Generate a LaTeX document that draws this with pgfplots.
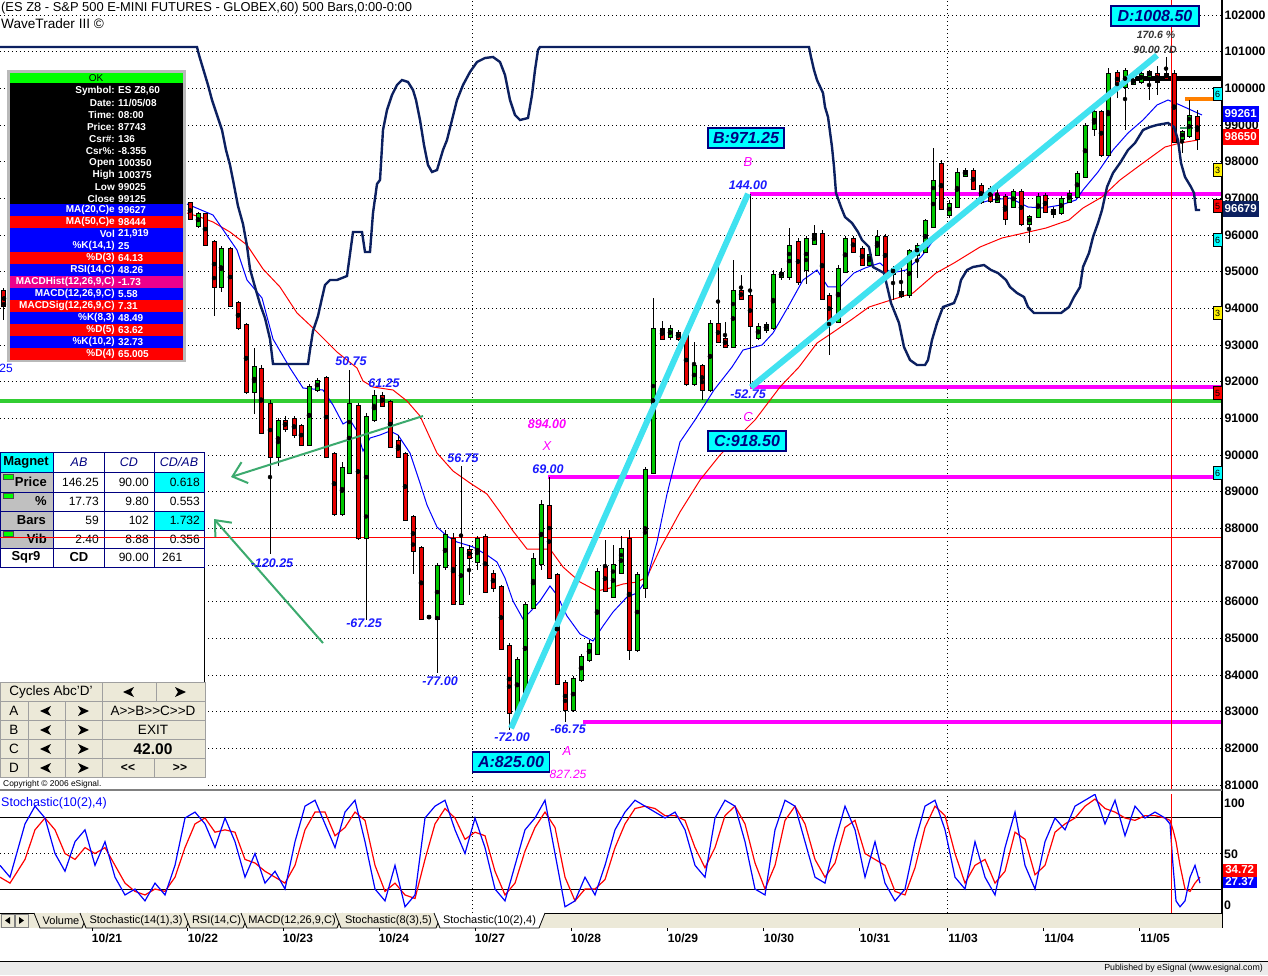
\documentclass[border=0pt]{standalone}
\usepackage{fontspec}
\setmainfont{Liberation Sans}
\usepackage{pgfplots}
\usepackage{pgfplotstable}
\pgfplotsset{compat=1.18}
\usetikzlibrary{arrows.meta}

\definecolor{navyc}{RGB}{12,32,96}
\definecolor{cyanl}{RGB}{64,226,240}
\definecolor{greenl}{RGB}{50,205,50}
\definecolor{candleg}{RGB}{0,200,0}
\definecolor{candler}{RGB}{230,0,0}
\definecolor{arrowg}{RGB}{60,170,110}
\definecolor{beige}{RGB}{236,233,216}
\definecolor{annblue}{RGB}{25,25,255}
\definecolor{annmag}{RGB}{255,0,255}
\definecolor{tgray}{RGB}{192,192,192}
\definecolor{okgreen}{RGB}{0,255,0}
\definecolor{boxcyan}{RGB}{0,255,255}
\definecolor{darkblue}{RGB}{0,0,128}
\definecolor{orangel}{RGB}{255,128,0}
\definecolor{dgreen}{RGB}{60,150,100}

% 2-hour candles, x = bar position, prices as on the right scale
\pgfplotstableread{
x o h l c
4 94446 94555 93683 94092
190 96846 96901 96437 96491
198 96301 96628 96191 96546
205 96546 96600 95728 95783
214 95783 95864 93792 94637
221 94637 95701 94446 95591
230 95591 95673 94037 94119
238 94119 94201 93410 93519
246 93519 93601 91665 91774
254 91774 92919 91119 92374
261 92319 92456 90574 90656
270 91365 91501 87301 90001
278 90001 91010 89701 90901
285 90901 91065 90628 90765
294 90956 91065 90465 90601
301 90765 90847 90247 90328
309 90328 91937 90247 91828
317 91828 92101 91719 91992
326 92074 92155 89919 90001
334 90001 90083 88338 88447
342 88447 89810 88338 89619
349 89565 92319 89483 91365
358 91310 91419 87683 87792
366 87792 91146 85502 91010
374 91010 91774 90901 91556
382 91583 91719 91310 91392
390 91419 91501 90192 90274
398 90356 90547 89919 90001
405 90001 90083 88201 88283
413 88283 88365 86756 87438
421 87438 87520 85529 85584
429 85584 85611 85557 85584
437 85584 87056 84056 86947
445 87002 87956 86865 87792
453 87683 87874 85911 85993
461 85993 89701 85911 87438
469 87383 87547 86183 87247
477 87138 87792 86865 87683
485 87738 87847 86238 86320
493 86729 86865 86265 86429
501 86374 86456 84683 84765
509 84765 84874 82500 83020
517 83075 84493 82993 84384
525 83565 85993 83483 85884
533 85884 87329 85802 87138
541 87083 88774 86865 88610
549 88583 89400 86620 86702
557 86702 86784 83729 83811
565 83756 83865 82725 83102
573 83102 83974 82993 83865
581 83920 84574 83811 84465
589 84465 84956 84356 84820
597 84629 86920 84547 86784
605 86920 87683 86265 86347
613 86183 87547 86102 86975
621 86838 87792 86756 87410
629 87683 87956 84411 84738
637 84738 86811 84629 86702
645 86429 89674 86102 89565
653 89565 94283 89483 93410
662 93410 93656 93137 93219
670 93274 93547 93137 93410
678 93301 93410 93110 93219
686 93219 93301 91883 91965
694 91965 93083 91883 92401
702 92401 92483 91501 91828
710 91828 93683 91719 93547
718 93547 95319 93055 93137
725 93137 93628 92919 93001
733 93001 95319 92919 94446
741 94446 94910 94228 94310
750 94310 97125 91850 93574
758 93246 93601 93137 93456
766 93456 93628 93328 93510
773 93510 95046 93410 94883
781 94910 95100 94774 94937
789 94910 96191 94774 95673
798 95783 95919 94637 94774
806 95100 95973 94665 95864
814 95810 96273 95728 96001
822 96001 96137 94228 94310
829 94310 94419 92728 93683
838 93683 95182 93601 95046
845 95046 95973 94964 95864
853 95864 95973 95510 95591
862 95591 95701 95155 95237
869 95237 95591 95155 95401
877 95510 96137 95428 95919
885 95919 96028 94883 94964
893 94992 95155 94228 95046
901 94419 95155 94283 94392
909 94392 95619 94283 95510
917 95510 95783 94828 95673
925 95591 96437 95510 96328
933 96273 98373 96191 97419
941 97909 98046 96682 96764
949 96600 96955 96464 96819
957 96819 97828 96737 97664
965 97664 97828 97582 97719
973 97719 97828 97228 97310
981 97310 97419 96846 96955
990 97228 97337 96873 96982
997 96955 97337 96873 97037
1005 97010 97119 96273 96491
1013 96819 97255 96737 97146
1021 97146 97255 96246 96355
1029 96355 96546 95783 96464
1038 96546 97146 96464 97010
1045 97037 97146 96600 96682
1053 96628 96764 96464 96655
1061 96655 97064 96546 96955
1069 96955 97228 96873 97092
1077 97092 97746 97010 97637
1085 97637 99055 97555 98946
1094 98946 99437 98700 99328
1101 99328 99410 98128 98237
1108 98237 100555 98155 100364
1117 100364 100500 99737 100146
1125 100091 100555 98864 100446
1133 100173 100336 100091 100200
1141 100227 100500 100118 100364
1149 100364 100500 99682 100418
1157 100364 100609 99818 100227
1166 100364 100850 100227 100309
1174 100364 100500 98509 98591
1182 98673 98864 98237 98782
1189 98728 99682 98646 99191
1197 99191 99410 98318 98673
}\candles

\newcommand{\ifont}{\fontsize{10}{12}\selectfont\bfseries}
\newcommand{\ann}{\fontsize{12.5}{14}\selectfont\bfseries\itshape}
\newcommand{\tfont}{\fontsize{12}{14}\selectfont}
\newcommand{\tbold}{\fontsize{13}{15}\selectfont\bfseries}
\newcommand{\irow}[4]{\fill[#2] (10,{-#1+6}) rectangle (183,{-#1-6});
  \node[anchor=east,text=white,font=\ifont] at (115,-#1) {#3};
  \node[anchor=west,text=white,font=\ifont] at (118,-#1) {#4};}
\newcommand{\brow}[3]{\node[anchor=east,text=white,font=\ifont] at (115,-#1) {#2};
  \node[anchor=west,text=white,font=\ifont] at (118,-#1) {#3};}
\newcommand{\btn}[4]{\filldraw[fill=beige, draw=gray!75, line width=0.8pt] (#1,-#2) rectangle (#3,-#4);}
\newcommand{\larr}[2]{\fill[black] ({#1-6},-#2) -- ({#1+5},{-#2+5}) -- ({#1+2},-#2) -- ({#1+5},{-#2-5}) -- cycle;}
\newcommand{\rarr}[2]{\fill[black] ({#1+6},-#2) -- ({#1-5},{-#2+5}) -- ({#1-2},-#2) -- ({#1-5},{-#2-5}) -- cycle;}
\newcommand{\tabshape}[4]{\filldraw[fill=#3, draw=black, line width=0.8pt] (#1,-913) -- ({#1+6},-928) -- ({#2-6},-928) -- (#2,-913);
  \node[font=\fontsize{11}{13}\selectfont] at ({(#1+#2)/2},-920.5) {#4};}

\begin{document}
\begin{tikzpicture}[x=1pt,y=1pt]
\useasboundingbox (0,0) rectangle (1268,-975);
\fill[white] (0,0) rectangle (1268,-975);

% ---------------- price panel ----------------
\begin{axis}[
  at={(0pt,0pt)}, anchor=north west, scale only axis,
  width=1222pt, height=790pt,
  xmin=0, xmax=1222, ymin=80866, ymax=102409,
  axis line style={draw=none},
  xtick={472,947}, xticklabels={}, xmajorgrids,
  ytick={81000,82000,...,102000}, ymajorgrids,
  grid style={black, line width=0.8pt, dash pattern=on 0.8pt off 3.2pt},
  major tick length=0pt,
  yticklabel pos=right,
  scaled y ticks=false,
  y tick label style={font=\fontsize{12.3}{14}\selectfont\bfseries, anchor=west, xshift=-1pt},
  yticklabel style={/pgf/number format/fixed, /pgf/number format/1000 sep={}, /pgf/number format/assume math mode=true},
]
% level lines
\addplot[red, line width=1.2pt] coordinates {(0,87743) (1222,87743)};
\addplot[greenl, line width=4pt] coordinates {(0,91475) (1222,91475)};
\addplot[annmag, line width=3.5pt] coordinates {(750,97125) (1222,97125)};
\addplot[annmag, line width=3.5pt] coordinates {(750,91850) (1222,91850)};
\addplot[annmag, line width=3.5pt] coordinates {(548,89400) (1222,89400)};
\addplot[annmag, line width=3.5pt] coordinates {(583,82725) (1222,82725)};
\addplot[black, line width=5pt] coordinates {(1135,100255) (1222,100255)};
\addplot[orangel, line width=4pt] coordinates {(1185,99723) (1215,99723)};
\addplot[dgreen, line width=2pt] coordinates {(1180,98918) (1193,98918)};

% moving averages
\addplot[red, line width=1pt] coordinates {
(187,96600) (200,96491) (213,96355) (230,96082) (247,95728) (263,95073) (280,94583)
(297,93874) (313,93465) (327,93083) (337,92810) (357,92374) (363,92019) (373,91856)
(393,91774) (407,91474) (420,91065) (437,90055) (453,89565) (470,89237) (487,88937)
(500,88447) (513,87929) (527,87438) (550,87438) (563,86947) (580,86538) (597,86292)
(610,86374) (623,86483) (637,86538) (647,86675) (660,87438) (680,88447) (700,89319)
(720,90001) (740,90547) (755,90956) (780,91856) (799,92401) (817,93055) (832,93328)
(851,93683) (869,94037) (891,94228) (913,94419) (936,94964) (954,95237) (980,95673)
(1002,95919) (1024,96055) (1046,96191) (1069,96410) (1083,96737) (1102,97037)
(1120,97501) (1143,97964) (1165,98400) (1180,98509) (1198,98591)};
\addplot[blue, line width=1pt] coordinates {
(187,96846) (213,96546) (237,95591) (247,94774) (262,94283) (273,93164) (290,92374)
(303,91828) (323,91774) (333,91365) (343,90847) (350,90956) (357,90656) (363,90110)
(370,90465) (380,90547) (390,90656) (398,90547) (410,90055) (420,89237) (427,88637)
(437,88037) (447,87792) (457,87629) (467,87547) (473,87492) (487,87274) (497,87083)
(505,86647) (513,86020) (523,85529) (530,85720) (540,86020) (550,86429) (557,86183)
(567,85611) (580,85120) (593,84929) (603,85338) (613,85720) (627,86129) (637,86238)
(647,86620) (657,87629) (667,88937) (680,90356) (695,90956) (714,91774) (732,92401)
(743,92864) (762,93001) (773,93328) (788,94037) (803,94774) (817,95046) (828,94583)
(840,94583) (854,94964) (865,95100) (880,95237) (891,94964) (906,95046) (921,95401)
(936,95946) (954,96410) (973,96819) (991,96955) (1010,97010) (1028,96764) (1043,96737)
(1061,96819) (1076,96955) (1083,97228) (1098,97719) (1113,98319) (1128,98782)
(1143,99137) (1157,99546) (1168,99682) (1180,99546) (1191,99410) (1202,99273)};

% candles: wicks
\addplot[only marks, mark=none, forget plot,
  error bars/.cd, y dir=both, y explicit, error mark=none,
  error bar style={draw=black, line width=1pt}]
  table[x=x, y expr={(\thisrow{h}+\thisrow{l})/2}, y error expr={(\thisrow{h}-\thisrow{l})/2}] {\candles};
% up bodies
\addplot[only marks, mark=none, forget plot,
  restrict expr to domain={\thisrow{c}-\thisrow{o}}{0:50000},
  error bars/.cd, y dir=both, y explicit, error mark=none,
  error bar style={draw=black, line width=5pt, line cap=rect}]
  table[x=x, y expr={(\thisrow{o}+\thisrow{c})/2}, y error expr={abs(\thisrow{c}-\thisrow{o})/2}] {\candles};
\addplot[only marks, mark=none, forget plot,
  restrict expr to domain={\thisrow{c}-\thisrow{o}}{0:50000},
  error bars/.cd, y dir=both, y explicit, error mark=none,
  error bar style={draw=candleg, line width=3pt, line cap=rect}]
  table[x=x, y expr={(\thisrow{o}+\thisrow{c})/2}, y error expr={abs(\thisrow{c}-\thisrow{o})/2}] {\candles};
% down bodies
\addplot[only marks, mark=none, forget plot,
  restrict expr to domain={\thisrow{c}-\thisrow{o}}{-50000:-0.5},
  error bars/.cd, y dir=both, y explicit, error mark=none,
  error bar style={draw=black, line width=5pt, line cap=rect}]
  table[x=x, y expr={(\thisrow{o}+\thisrow{c})/2}, y error expr={abs(\thisrow{c}-\thisrow{o})/2}] {\candles};
\addplot[only marks, mark=none, forget plot,
  restrict expr to domain={\thisrow{c}-\thisrow{o}}{-50000:-0.5},
  error bars/.cd, y dir=both, y explicit, error mark=none,
  error bar style={draw=candler, line width=3pt, line cap=rect}]
  table[x=x, y expr={(\thisrow{o}+\thisrow{c})/2}, y error expr={abs(\thisrow{c}-\thisrow{o})/2}] {\candles};

% cycle line
\addplot[navyc, line width=2.4pt] coordinates {
(0,101127) (197,101127) (199,100909) (202,100636) (205,100364) (208,100091) (212,99682)
(217,99273) (222,98864) (226,98319) (230,97909) (233,97501) (238,96791) (243,96301)
(247,95701) (250,95073) (255,94583) (260,94119) (265,93737) (270,93164) (273,92483)
(308,92483) (310,92864) (313,93383) (318,93792) (322,94283) (325,94637) (330,94774)
(337,94774) (347,94883) (350,95482) (353,96082) (362,96082) (365,95537) (370,95537)
(373,96600) (377,97392) (380,97501) (383,98864) (387,99410) (392,99819) (397,100091)
(402,100227) (408,100173) (413,99955) (416,99682) (420,99137) (424,98455) (428,97909)
(432,97719) (437,97773) (440,98046) (443,98319) (447,98591) (452,99137) (457,99682)
(463,100091) (470,100446) (477,100718) (485,100827) (493,100855) (500,100718)
(505,100364) (510,99682) (515,99273) (520,99137) (528,99191) (532,99819) (535,100500)
(538,101046) (540,101127) (809,101127) (811,100855) (814,100500) (817,100227)
(823,99873) (825,99491) (828,99219) (832,98400) (834,97855) (836,97146) (841,96764)
(845,96491) (852,96328) (858,96082) (862,95864) (869,95673) (873,95128) (884,94964)
(891,94146) (899,93601) (904,92946) (910,92592) (917,92456) (925,92456) (928,92592)
(932,93137) (937,93601) (943,94037) (954,94146) (958,94419) (961,94774) (967,95046)
(973,95128) (984,95182) (991,95046) (998,94964) (1006,94774) (1010,94583) (1017,94419)
(1024,94310) (1028,94037) (1034,93874) (1061,93874) (1069,94037) (1074,94310)
(1080,94583) (1083,95128) (1089,95510) (1093,95946) (1098,96328) (1102,96682)
(1107,97310) (1113,97692) (1120,97964) (1128,98319) (1135,98509) (1143,98864)
(1150,98946) (1157,99001) (1168,99055) (1174,98946) (1178,98591) (1181,97964)
(1185,97583) (1191,97310) (1194,97146) (1196,96682) (1200,96682)};

% ABCD legs
\addplot[cyanl, line width=6pt] coordinates {(511,82550) (748,97125)};
\addplot[cyanl, line width=6pt] coordinates {(751,91850) (1157,100900)};

% hand-drawn arrows
\addplot[arrowg, line width=2pt, -{Straight Barb[length=13pt,width=22pt]}] coordinates {(423,91065) (231,89401)};
\addplot[arrowg, line width=2pt, -{Straight Barb[length=13pt,width=22pt]}] coordinates {(323,84874) (214,88256)};

% cursor
\addplot[red, line width=0.9pt] coordinates {(1171,80866) (1171,102409)};
\end{axis}

% ---------------- stochastic panel ----------------
\begin{axis}[
  at={(0pt,-794.3pt)}, anchor=north west, scale only axis,
  width=1222pt, height=118.4pt,
  xmin=0, xmax=1222, ymin=0, ymax=100,
  axis line style={draw=none},
  xtick={472,947}, xticklabels={}, ytick={50}, yticklabels={},
  xmajorgrids, ymajorgrids,
  grid style={black, line width=0.8pt, dash pattern=on 0.8pt off 3.2pt},
  major tick length=0pt,
]
\addplot[black, line width=1pt] coordinates {(0,80) (1222,80)};
\addplot[black, line width=1pt] coordinates {(0,20) (1222,20)};
\addplot[red, line width=1.2pt] coordinates {
(0,30) (10,25) (25,45) (35,70) (45,80) (55,70) (65,50) (75,45) (85,55) (95,50) (105,55)
(115,40) (125,25) (135,18) (145,15) (155,20) (165,18) (175,30) (185,55) (195,75) (205,80)
(215,68) (225,70) (235,68) (245,45) (255,42) (265,35) (275,30) (285,25) (295,40) (305,70)
(315,85) (325,85) (335,65) (345,72) (355,85) (365,78) (375,40) (385,18) (395,25) (405,15)
(415,12) (425,45) (435,75) (445,88) (455,80) (465,62) (475,68) (485,65) (495,35) (505,15)
(515,25) (525,52) (535,72) (545,85) (555,72) (565,30) (575,10) (585,20) (595,20) (605,28)
(615,55) (625,75) (635,88) (645,90) (655,88) (665,82) (675,82) (685,78) (695,55) (705,38)
(715,55) (725,82) (735,90) (745,75) (755,42) (765,20) (775,40) (785,78) (795,90) (805,75)
(815,45) (825,30) (835,42) (845,72) (855,78) (865,50) (875,45) (885,40) (895,18) (905,15)
(915,38) (925,72) (935,90) (945,82) (955,50) (965,25) (975,40) (985,45) (995,25) (1005,35)
(1015,68) (1025,62) (1035,32) (1045,40) (1055,68) (1065,75) (1075,80) (1085,90) (1095,96)
(1105,88) (1115,85) (1125,80) (1135,78) (1145,82) (1155,82) (1165,80) (1170,78) (1173,70)
(1176,60) (1180,40) (1185,20) (1190,18) (1195,25) (1200,30)};
\addplot[blue, line width=1.2pt] coordinates {
(0,40) (10,30) (25,75) (35,90) (45,80) (55,50) (65,35) (75,60) (85,70) (95,40) (105,60)
(115,30) (125,15) (135,20) (145,10) (155,25) (165,15) (175,40) (185,80) (195,85) (205,75)
(215,55) (225,80) (235,60) (245,30) (255,50) (265,25) (275,35) (285,20) (295,60) (305,90)
(315,95) (325,75) (335,55) (345,85) (355,95) (365,60) (375,20) (385,10) (395,40) (405,5)
(415,15) (425,80) (435,90) (445,95) (455,70) (465,50) (475,80) (485,55) (495,20) (505,10)
(515,40) (525,70) (535,80) (545,95) (555,50) (565,5) (575,10) (585,30) (595,15) (605,40)
(615,70) (625,85) (635,95) (645,90) (655,85) (665,80) (675,85) (685,70) (695,40) (705,30)
(715,80) (725,95) (735,90) (745,60) (755,20) (765,15) (775,70) (785,95) (795,90) (805,60)
(815,30) (825,25) (835,60) (845,90) (855,70) (865,30) (875,60) (885,25) (895,10) (905,20)
(915,60) (925,90) (935,95) (945,70) (955,30) (965,20) (975,60) (985,30) (995,15) (1005,55)
(1015,85) (1025,40) (1035,20) (1045,60) (1055,80) (1065,70) (1075,90) (1085,95) (1095,100)
(1105,75) (1115,95) (1125,65) (1135,90) (1145,80) (1155,85) (1165,80) (1170,75) (1173,40)
(1176,10) (1180,5) (1185,10) (1190,30) (1195,40) (1200,25)};
\addplot[red, line width=0.9pt] coordinates {(1171,0) (1171,100)};
\end{axis}

\begin{scope}[every node/.style={inner sep=0pt}]
% frame lines
\draw[black, line width=1.2pt] (1222,0) -- (1222,-913);
\draw[gray, line width=1.5pt] (0,-790) -- (1222,-790);

% titles
\node[anchor=west, font=\fontsize{12.9}{15}\selectfont] at (1,-8) {(ES Z8 - S\&P 500 E-MINI FUTURES - GLOBEX,60) 500 Bars,0:00-0:00};
\node[anchor=west, font=\fontsize{13.6}{15}\selectfont] at (1,-24) {WaveTrader III ©};
\node[anchor=west, text=blue, font=\fontsize{12.5}{14}\selectfont] at (1,-803) {Stochastic(10(2),4)};

% info box
\fill[gray!55] (7,-70) rectangle (186,-362);
\fill[black] (10,-83) rectangle (183,-204);
\fill[okgreen] (10,-73) rectangle (183,-83);
\node[font=\fontsize{10}{12}\selectfont] at (96,-78) {OK};
\brow{91}{Symbol:}{ES Z8,60}
\brow{103}{Date:}{11/05/08}
\brow{115}{Time:}{08:00}
\brow{127}{Price:}{87743}
\brow{139}{Csr\#:}{136}
\brow{151}{Csr\%:}{-8.355}
\brow{163}{Open}{100350}
\brow{175}{High}{100375}
\brow{187}{Low}{99025}
\brow{199}{Close}{99125}
\irow{210}{blue}{MA(20,C)e}{99627}
\irow{222}{red}{MA(50,C)e}{98444}
\irow{234}{blue}{Vol}{21,919}
\irow{246}{blue}{\%K(14,1)}{25}
\irow{258}{red}{\%D(3)}{64.13}
\irow{270}{blue}{RSI(14,C)}{48.26}
\irow{282}{magenta}{MACDHist(12,26,9,C)}{-1.73}
\irow{294}{blue}{MACD(12,26,9,C)}{5.58}
\irow{306}{red}{MACDSig(12,26,9,C)}{7.31}
\irow{318}{blue}{\%K(8,3)}{48.49}
\irow{330}{red}{\%D(5)}{63.62}
\irow{342}{blue}{\%K(10,2)}{32.73}
\irow{354}{red}{\%D(4)}{65.005}
\node[anchor=east, text=blue, font=\fontsize{12}{14}\selectfont] at (13,-368) {25};

% magnet table
\fill[white] (0,-452) rectangle (205,-789);
\draw[black, line width=1pt] (204.5,-452) -- (204.5,-682);
\fill[boxcyan] (0,-452) rectangle (53,-472);
\fill[tgray] (0,-472) rectangle (53,-548);
\fill[boxcyan] (154,-472) rectangle (204,-492);
\fill[boxcyan] (154,-511) rectangle (204,-530);
\draw[darkblue, line width=1pt] (0.5,-452) rectangle (204,-567);
\foreach \yy in {472,492,511,530,548} \draw[darkblue, line width=1pt] (0,-\yy) -- (204,-\yy);
\foreach \xx in {53,104,154} \draw[darkblue, line width=1pt] (\xx,-452) -- (\xx,-567);
\filldraw[fill=okgreen, draw=black!70, line width=0.6pt] (3,-474) rectangle (13,-479);
\filldraw[fill=okgreen, draw=black!70, line width=0.6pt] (3,-493) rectangle (13,-498);
\filldraw[fill=okgreen, draw=black!70, line width=0.6pt] (3,-531) rectangle (13,-536);
\node[font=\tbold] at (26,-462) {Magnet};
\node[font=\fontsize{12.5}{14}\selectfont\itshape, text=darkblue] at (79,-462) {AB};
\node[font=\fontsize{12.5}{14}\selectfont\itshape, text=darkblue] at (129,-462) {CD};
\node[font=\fontsize{12.5}{14}\selectfont\itshape, text=darkblue] at (179,-462) {CD/AB};
\node[anchor=east, font=\tbold] at (47,-482) {Price};
\node[anchor=east, font=\tbold] at (47,-501.5) {\%};
\node[anchor=east, font=\tbold] at (46,-520.5) {Bars};
\node[anchor=east, font=\tbold] at (47,-539) {Vib};
\node[font=\tbold] at (26,-557.5) {Sqr9};
\node[font=\tbold] at (79,-557.5) {CD};
\node[anchor=east, font=\tfont] at (99,-482) {146.25};
\node[anchor=east, font=\tfont] at (149,-482) {90.00};
\node[anchor=east, font=\tfont] at (200,-482) {0.618};
\node[anchor=east, font=\tfont] at (99,-501.5) {17.73};
\node[anchor=east, font=\tfont] at (149,-501.5) {9.80};
\node[anchor=east, font=\tfont] at (200,-501.5) {0.553};
\node[anchor=east, font=\tfont] at (99,-520.5) {59};
\node[anchor=east, font=\tfont] at (149,-520.5) {102};
\node[anchor=east, font=\tfont] at (200,-520.5) {1.732};
\node[anchor=east, font=\tfont] at (99,-539) {2.40};
\node[anchor=east, font=\tfont] at (149,-539) {8.88};
\node[anchor=east, font=\tfont] at (200,-539) {0.356};
\node[anchor=east, font=\tfont] at (149,-557.5) {90.00};
\node[anchor=west, font=\tfont] at (162,-557.5) {261};
\draw[red, line width=1.2pt] (0,-537.8) -- (205,-537.8);

% cycle buttons
\btn{0}{682}{102}{701} \btn{102}{682}{156}{701} \btn{156}{682}{205}{701}
\foreach \r/\s in {701/720,720/739,739/758} {\btn{0}{\r}{28}{\s} \btn{28}{\r}{65}{\s} \btn{65}{\r}{102}{\s} \btn{102}{\r}{205}{\s}}
\btn{0}{758}{28}{777} \btn{28}{758}{65}{777} \btn{65}{758}{102}{777} \btn{102}{758}{154}{777} \btn{154}{758}{205}{777}
\node[font=\fontsize{13.5}{15}\selectfont] at (51,-692) {Cycles Abc'D'};
\larr{129}{692} \rarr{180}{692}
\node[font=\fontsize{13.5}{15}\selectfont] at (14,-711) {A};
\node[font=\fontsize{13.5}{15}\selectfont] at (14,-730) {B};
\node[font=\fontsize{13.5}{15}\selectfont] at (14,-749) {C};
\node[font=\fontsize{13.5}{15}\selectfont] at (14,-768) {D};
\foreach \yy in {711,730,749,768} {\larr{46}{\yy} \rarr{83}{\yy}}
\node[font=\fontsize{13.5}{15}\selectfont] at (153,-711) {A>{}>B>{}>C>{}>D};
\node[font=\fontsize{13.5}{15}\selectfont] at (153,-730) {EXIT};
\node[font=\fontsize{15.5}{17}\selectfont\bfseries] at (153,-749) {42.00};
\node[font=\fontsize{12}{14}\selectfont\bfseries] at (128,-768) {<{}<};
\node[font=\fontsize{12}{14}\selectfont\bfseries] at (180,-768) {>{}>};
\node[anchor=west, font=\fontsize{8.4}{10}\selectfont] at (3,-784) {Copyright © 2006 eSignal.};

% annotations
\node[text=annblue, font=\ann] at (351,-361) {50.75};
\node[text=annblue, font=\ann] at (384,-383) {61.25};
\node[text=annblue, font=\ann] at (463,-458) {56.75};
\node[text=annblue, font=\ann] at (548,-469) {69.00};
\node[text=annblue, font=\ann] at (748,-185) {144.00};
\node[text=annblue, font=\ann] at (748,-394) {-52.75};
\node[text=annblue, font=\ann] at (272,-563) {-120.25};
\node[text=annblue, font=\ann] at (364,-623) {-67.25};
\node[text=annblue, font=\ann] at (440,-681) {-77.00};
\node[text=annblue, font=\ann] at (512,-737) {-72.00};
\node[text=annblue, font=\ann] at (568,-729) {-66.75};
\node[text=annmag, font=\ann] at (547,-424) {894.00};
\node[text=annmag, font=\fontsize{13}{15}\selectfont\itshape] at (547,-446) {X};
\node[text=annmag, font=\fontsize{13}{15}\selectfont\itshape] at (748,-162) {B};
\node[text=annmag, font=\fontsize{13}{15}\selectfont\itshape] at (748,-417) {C};
\node[text=annmag, font=\fontsize{13}{15}\selectfont\itshape] at (567,-751) {A};
\node[text=annmag, font=\fontsize{12}{14}\selectfont\itshape] at (568,-774) {827.25};
\node[text=black!80, font=\fontsize{10.5}{12}\selectfont\bfseries\itshape] at (1156,-35) {170.6 \%};
\node[text=black!80, font=\fontsize{10.5}{12}\selectfont\bfseries\itshape] at (1155,-50) {90.00 ?D};

\tikzset{abox/.style={fill=boxcyan, draw=darkblue, line width=1.3pt, text=darkblue,
  font=\fontsize{16}{18}\selectfont\bfseries\itshape, minimum height=20pt}}
\node[abox, minimum width=76pt] at (746,-138) {B:971.25};
\node[abox, minimum width=78pt] at (747,-441) {C:918.50};
\node[abox, minimum width=77pt] at (511,-762) {A:825.00};
\node[abox, minimum width=88pt] at (1155,-16) {D:1008.50};

% right side markers and tags
\tikzset{nbox/.style={draw=black, line width=0.6pt, minimum width=9pt, minimum height=13pt, font=\fontsize{9}{10}\selectfont}}
\node[nbox, fill=boxcyan] at (1217.5,-94) {6};
\node[nbox, fill=yellow] at (1217.5,-170) {3};
\node[nbox, fill=red] at (1217.5,-206) {5};
\node[nbox, fill=boxcyan] at (1217.5,-240) {6};
\node[nbox, fill=yellow] at (1217.5,-313) {3};
\node[nbox, fill=red] at (1217.5,-393) {5};
\node[nbox, fill=boxcyan] at (1217.5,-473) {6};
\tikzset{ptag/.style={text=white, font=\fontsize{11.5}{13}\selectfont\bfseries, minimum width=36pt, minimum height=16pt, anchor=west}}
\node[ptag, fill=blue] at (1222.5,-114) {99261};
\node[ptag, fill=red] at (1222.5,-137) {98650};
\node[ptag, fill=navyc] at (1222.5,-209) {96679};

% stochastic scale
\node[anchor=west, font=\fontsize{12.3}{14}\selectfont\bfseries] at (1224,-803) {100};
\node[anchor=west, font=\fontsize{12.3}{14}\selectfont\bfseries] at (1224,-854) {50};
\node[anchor=west, font=\fontsize{12.3}{14}\selectfont\bfseries] at (1224,-905) {0};
\node[ptag, fill=blue, minimum width=34pt, minimum height=12pt] at (1222.5,-882) {27.37};
\node[ptag, fill=red, minimum width=34pt, minimum height=13pt] at (1222.5,-870) {34.72};

% tab strip
\fill[beige] (0,-913) rectangle (1222,-928);
\draw[black, line width=1pt] (0,-913) -- (1222,-913);
\draw[black, line width=1pt] (1222,-913) -- (1222,-928);
\filldraw[fill=beige, draw=gray] (1,-914) rectangle (14,-927);
\filldraw[fill=beige, draw=gray] (15,-914) rectangle (28,-927);
\fill (10,-917) -- (5,-920.5) -- (10,-924) -- cycle;
\fill (19,-917) -- (24,-920.5) -- (19,-924) -- cycle;
\tabshape{34}{88}{beige}{Volume}
\tabshape{80}{192}{beige}{Stochastic(14(1),3)}
\tabshape{184}{249}{beige}{RSI(14,C)}
\tabshape{241}{343}{beige}{MACD(12,26,9,C)}
\tabshape{335}{442}{beige}{Stochastic(8(3),5)}
\tabshape{434}{545}{white}{Stochastic(10(2),4)}

% dates
\foreach \xx in {92,187.5,283,379,475,571,667,763,859,947,1043,1139} \draw[black] (\xx,-928) -- (\xx,-931);
\tikzset{dlab/.style={font=\fontsize{12}{14}\selectfont\bfseries}}
\node[dlab] at (107,-938) {10/21};
\node[dlab] at (203,-938) {10/22};
\node[dlab] at (298,-938) {10/23};
\node[dlab] at (394,-938) {10/24};
\node[dlab] at (490,-938) {10/27};
\node[dlab] at (586,-938) {10/28};
\node[dlab] at (683,-938) {10/29};
\node[dlab] at (779,-938) {10/30};
\node[dlab] at (875,-938) {10/31};
\node[dlab] at (963,-938) {11/03};
\node[dlab] at (1059,-938) {11/04};
\node[dlab] at (1155,-938) {11/05};

% status bar
\draw[black, line width=1pt] (0,-961) -- (1268,-961);
\fill[black!8] (0,-962) rectangle (1268,-975);
\node[anchor=east, font=\fontsize{8.8}{10}\selectfont] at (1263,-968) {Published by eSignal (www.esignal.com)};
\end{scope}
\end{tikzpicture}
\end{document}
